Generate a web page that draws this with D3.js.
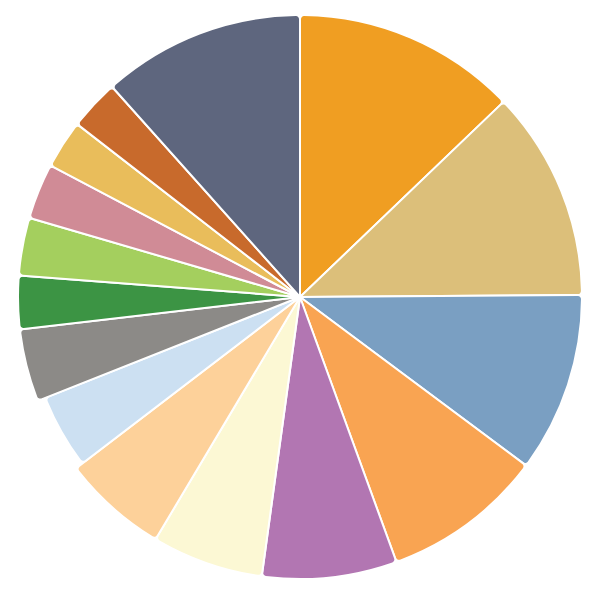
<!DOCTYPE html>
<html>
<head>
<meta charset="utf-8">
<script src="https://cdn.jsdelivr.net/npm/d3@7"></script>
<style>body{margin:0;background:#fff}</style>
</head>
<body>
<script>
// slice sizes (degrees of the circle)
const values = [46.2, 43.4, 37.1, 33.3, 27.8, 23.0, 21.8, 15.8, 15.0, 11.0, 11.9, 11.5, 10.0, 10.4, 41.8];
const colors = ['#f09e22', '#dcbf7a', '#7a9fc2', '#f9a452', '#b276b2', '#fcf8d4', '#fdd19a',
  '#cce0f2', '#8c8a87', '#3c9444', '#a4cf5e', '#d08b96', '#e9bd5b', '#c86a2c', '#5e667e'];
// the light blue slice sits a little inside the rest
const shrunk = [7];

const width = 595, height = 597;
const cx = 300, cy = 297, r = 282;

const svg = d3.select(document.body).append('svg')
  .attr('width', width)
  .attr('height', height);

const pie = d3.pie().sort(null);
const arcs = pie(values);

const arc = d3.arc()
  .innerRadius(0)
  .outerRadius((d, i) => shrunk.includes(d.index) ? r - 8 : r)
  .cornerRadius(4);

svg.append('g')
  .attr('transform', `translate(${cx},${cy})`)
  .selectAll('path')
  .data(arcs)
  .join('path')
    .attr('d', d => arc(d))
    .attr('fill', (d, i) => colors[i])
    .attr('stroke', '#fff')
    .attr('stroke-width', 2);
</script>
</body>
</html>
